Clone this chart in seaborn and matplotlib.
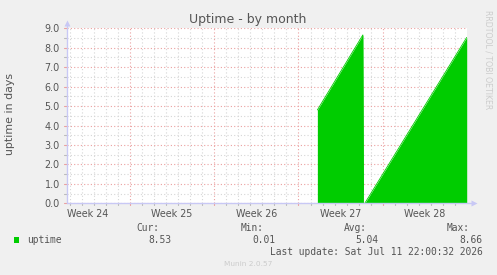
import numpy as np
import pandas as pd
import matplotlib
matplotlib.use("Agg")
import matplotlib.pyplot as plt
import matplotlib.transforms as mtransforms
import seaborn as sns

# ---- data (days on x axis; week boundaries at 0, 7, 14, 21) ----
seg1_days = [15.57, 19.35, 19.40]
seg1_uptime = [4.80, 8.66, 0.60]
seg2_days = [19.52, 27.98]
seg2_uptime = [0.01, 8.53]
week_labels = ["Week 24", "Week 25", "Week 26", "Week 27", "Week 28"]
week_centers = [-3.5, 3.5, 10.5, 17.5, 24.5]
week_bounds = [0, 7, 14, 21]
y_ticks = [0, 1, 2, 3, 4, 5, 6, 7, 8, 9]
y_labels = ["%.1f" % v for v in y_ticks]
stats_names = ["Cur:", "Min:", "Avg:", "Max:"]
stats_values = ["8.53", "0.01", "5.04", "8.66"]
series_name = "uptime"
last_update = "Last update: Sat Jul 11 22:00:32 2026"

sns.set_style("white")
plt.rcParams["font.family"] = ["DejaVu Sans"]

W, H = 497, 275
fig = plt.figure(figsize=(W / 100, H / 100), dpi=100)
fig.patch.set_facecolor("#F0F0F0")

L, R, T, B = 66.7, 466.7, 28.3, 203.3
ax = fig.add_axes([L / W, 1 - B / H, (R - L) / W, (B - T) / H])
ax.set_facecolor("white")
xmin, xmax = -5.26, 27.98
ax.set_xlim(xmin, xmax)
ax.set_ylim(0, 9)

# grid
minor_c = "#D6D6D6"
major_c = "#EBA0A0"
dot = (0, (1, 2))
for d in np.arange(np.ceil(xmin), xmax, 1.0):
    if int(d) % 7 != 0:
        ax.axvline(d, color=minor_c, lw=0.8, ls=dot, zorder=0)
for yv in np.arange(0.5, 9, 1.0):
    ax.axhline(yv, color=minor_c, lw=0.8, ls=dot, zorder=0)
for d in week_bounds:
    ax.axvline(d, color=major_c, lw=0.8, ls=dot, zorder=0.5)
for yv in y_ticks:
    ax.axhline(yv, color=major_c, lw=0.8, ls=dot, zorder=0.5)

# data
green = "#00CC00"
for dd, uu in [(seg1_days, seg1_uptime), (seg2_days, seg2_uptime)]:
    df = pd.DataFrame({"day": dd, "uptime": uu})
    ax.fill_between(df["day"], 0, df["uptime"], color=green, lw=0, zorder=2)
    sns.lineplot(data=df, x="day", y="uptime", color=green, lw=0.6, ax=ax,
                 estimator=None, sort=False, zorder=2)

ax.set_xlabel("")
ax.set_ylabel("")

# spines/axes
for s in ax.spines.values():
    s.set_visible(False)
axis_c = "#C8C8F5"
ax.plot([0, 1.01], [0, 0], transform=ax.transAxes, color=axis_c, lw=1, clip_on=False, zorder=3)
ax.plot([0, 0], [0, 1.02], transform=ax.transAxes, color=axis_c, lw=1, clip_on=False, zorder=3)
# arrows
ax.plot([1.018], [0], marker=">", ms=4, color=axis_c, transform=ax.transAxes, clip_on=False, mec="none")
ax.plot([0], [1.03], marker="^", ms=4, color=axis_c, transform=ax.transAxes, clip_on=False, mec="none")

# ticks
ax.set_xticks(week_centers)
ax.set_xticklabels(week_labels)
ax.set_yticks(y_ticks)
ax.set_yticklabels(y_labels)
ax.tick_params(axis="both", length=0, labelsize=6.9, labelcolor="#555555")
ax.tick_params(axis="x", pad=4)
ax.tick_params(axis="y", pad=5)
tx = mtransforms.blended_transform_factory(ax.transData, ax.transAxes)
for d in np.arange(np.ceil(xmin), xmax, 1.0):
    c = major_c if int(d) % 7 == 0 else "#BBBBBB"
    ax.plot([d, d], [0, -0.012], transform=tx, color=c, lw=0.8, clip_on=False)
ty = mtransforms.blended_transform_factory(ax.transAxes, ax.transData)
for yv in np.arange(0, 9.01, 0.5):
    c = major_c if abs(yv - round(yv)) < 1e-6 else "#BBBBBB"
    ax.plot([0, -0.006], [yv, yv], transform=ty, color=c, lw=0.8, clip_on=False)

# texts
def fx(px):
    return px / W

def fy(py):
    return 1 - py / H

fig.text(fx(248), fy(20), "Uptime - by month", ha="center", va="center",
         fontsize=9, color="#555555")
fig.text(fx(10), fy(114), "uptime in days", rotation=90, ha="center", va="center",
         fontsize=7.9, color="#555555")
fig.text(fx(488), fy(10), "RRDTOOL / TOBI OETIKER", rotation=270, ha="center", va="top",
         fontsize=5.6, color="#CCCCCC")

mono = "DejaVu Sans Mono"
fs = 6.9
tc = "#555555"
fig.patches.append(plt.Rectangle((fx(14), fy(243)), 5 / W, 6 / H, transform=fig.transFigure,
                                 color=green, lw=0))
fig.text(fx(27), fy(240), series_name, family=mono, fontsize=fs, color=tc, ha="left", va="center")
name_right = [159.5, 263.5, 366.7, 470.0]
val_right = [171.0, 275.7, 378.3, 482.3]
for nm, vv, nr, vr in zip(stats_names, stats_values, name_right, val_right):
    fig.text(fx(nr), fy(228), nm, family=mono, fontsize=fs, color=tc, ha="right", va="center")
    fig.text(fx(vr), fy(240), vv, family=mono, fontsize=fs, color=tc, ha="right", va="center")
fig.text(fx(482.3), fy(252), last_update, family=mono, fontsize=fs, color=tc, ha="right", va="center")
fig.text(fx(248), fy(264), "Munin 2.0.57", ha="center", va="center", fontsize=5.3, color="#CCCCCC")

fig.savefig("out.png", dpi=100, facecolor=fig.get_facecolor())
